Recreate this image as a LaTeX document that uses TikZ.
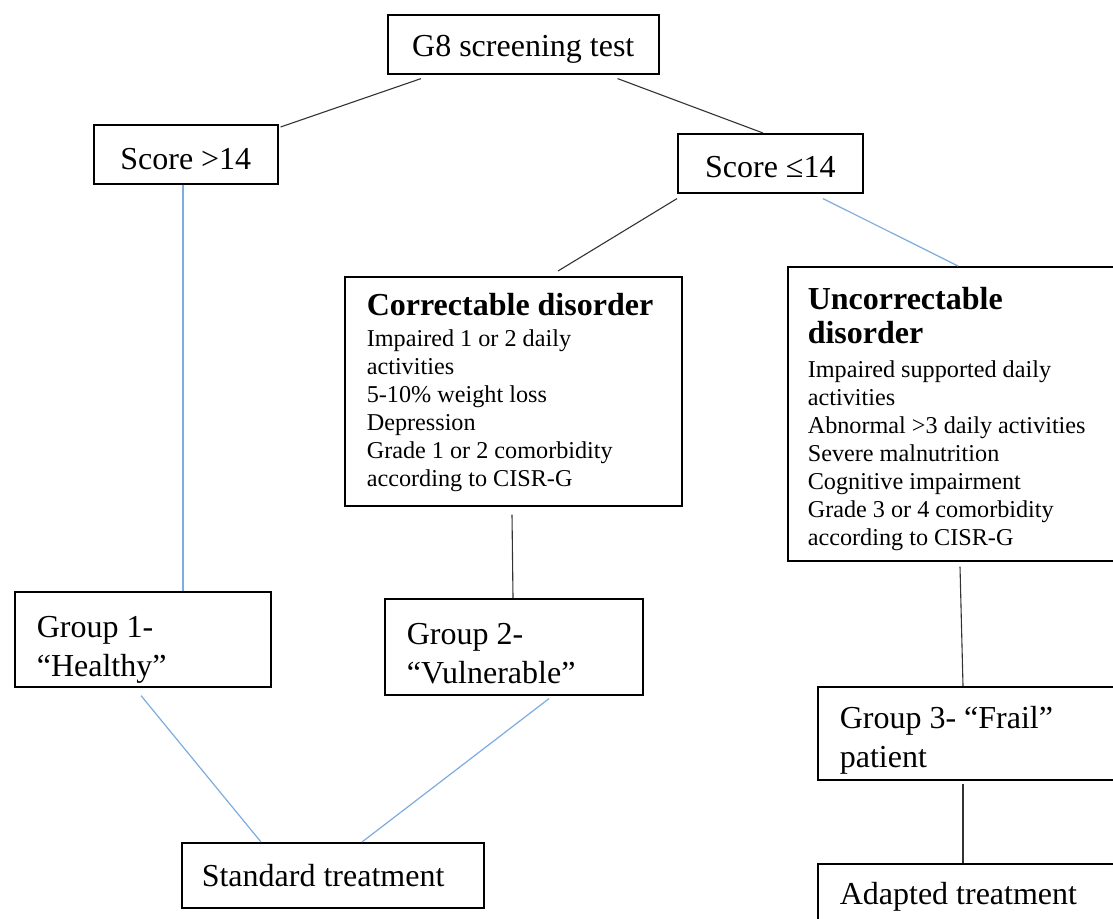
\documentclass[tikz,border=0pt]{standalone}
\usepackage{fontspec}
\setmainfont{Liberation Serif}
\usetikzlibrary{calc}
\definecolor{lblue}{RGB}{125,172,222}
\newcommand{\bigf}{\fontsize{32}{39}\selectfont}
\newcommand{\smallf}{\fontsize{24.2}{28}\selectfont}
\newcommand{\up}[1]{\rule{0pt}{#1pt}}
\tikzset{
  box/.style={draw=black, line width=1.6pt, rectangle, anchor=north west, align=flush left},
  cbox/.style={box, align=flush center},
  blk/.style={draw=black!80, line width=1.1pt},
  blu/.style={draw=lblue, line width=1.2pt},
}
\begin{document}
\begin{tikzpicture}[x=1pt,y=-1pt]
\useasboundingbox (0,0) rectangle (1113,918);
\clip (0,0) rectangle (1113,918);
\fill[white] (0,0) rectangle (1113,918);

\node[cbox, font=\bigf, minimum width=271pt, minimum height=59pt, inner xsep=4pt, text width=263pt] (g8) at (387,14) {\up{30.5}G8 screening test};
\node[cbox, font=\bigf, minimum width=184pt, minimum height=59pt, inner xsep=4pt, text width=176pt] (s1) at (93,124) {\up{30}Score {>}14};
\node[cbox, font=\bigf, minimum width=185pt, minimum height=59pt, inner xsep=4pt, text width=177pt] (s2) at (677,133) {\up{28}Score ≤14};

\node[box, font=\smallf, minimum width=337pt, minimum height=229pt, inner xsep=22pt, text width=293pt] (c) at (344,276)
  {{\bigf\bfseries\up{25.5}Correctable disorder}\\[3pt]
   Impaired 1 or 2 daily\\ activities\\ 5-10\% weight loss\\ Depression\\ Grade 1 or 2 comorbidity\\ according to CISR-G};

\node[box, font=\smallf, minimum width=340pt, minimum height=294pt, inner xsep=20pt, text width=300pt] (u) at (787,266)
  {{\bigf\bfseries\up{32.5}Uncorrectable}\\[6pt]{\bigf\bfseries disorder}\\[6pt]
   Impaired supported daily\\ activities\\ Abnormal {>}3 daily activities\\ Severe malnutrition\\ Cognitive impairment\\ Grade 3 or 4 comorbidity\\ according to CISR-G};

\node[box, font=\bigf, minimum width=256pt, minimum height=95pt, inner xsep=22pt, text width=212pt] (g1) at (14,591) {\up{42}Group 1-\\ “Healthy”};
\node[box, font=\bigf, minimum width=258pt, minimum height=96pt, inner xsep=22pt, text width=214pt] (g2) at (384,598) {\up{34}Group 2-\\ “Vulnerable”};
\node[box, font=\bigf, minimum width=310pt, minimum height=93pt, inner xsep=22pt, text width=266pt] (g3) at (817,686) {\up{36}Group 3- “Frail”\\ patient};

\node[box, font=\bigf, minimum width=302pt, minimum height=65pt, inner xsep=20pt, text width=262pt] (st) at (181,842) {Standard treatment};
\node[box, font=\bigf, minimum width=310pt, minimum height=60pt, inner xsep=22pt, text width=266pt] (at) at (817,863) {\up{28}Adapted treatment};

\draw[blk] ($(g8.south west)+(34,4)$) -- ($(s1.north east)+(2,3)$);
\draw[blk] ($(g8.south east)+(-42,4)$) -- ($(s2.north west)+(86,0)$);
\draw[blu] ($(s1.south west)+(90,0)$) -- ($(g1.north west)+(169,0)$);
\draw[blk] ($(s2.south west)+(0,5)$) -- ($(c.north west)+(214,-5)$);
\draw[blu] ($(s2.south west)+(146,5)$) -- ($(u.north west)+(171,0)$);
\draw[blk] ($(c.south west)+(168,8)$) -- ($(g2.north west)+(129,0)$);
\draw[blk] ($(u.south west)+(173,5)$) -- ($(g3.north west)+(146,0)$);
\draw[blu] ($(g1.south west)+(127,8)$) -- ($(st.north west)+(80,0)$);
\draw[blu] ($(g2.south west)+(165,3)$) -- ($(st.north west)+(181,0)$);
\draw[blk] ($(g3.south west)+(146,3)$) -- ($(at.north west)+(146,0)$);
\end{tikzpicture}
\end{document}
